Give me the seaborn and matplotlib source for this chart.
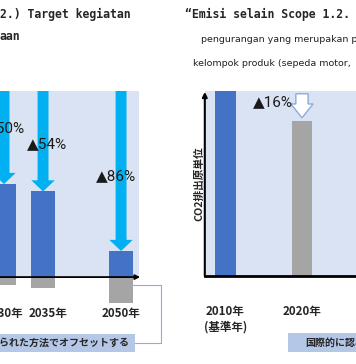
import pandas as pd
import matplotlib.pyplot as plt
import seaborn as sns
from matplotlib.patches import Rectangle
from matplotlib.lines import Line2D
from matplotlib.transforms import ScaledTranslation

# datos
left_years = ["2030年", "2035年", "2050年"]
left_net = [50, 46, 14]
left_offset = [-4, -6, -14]
left_cut = ["▲50%", "▲54%", "▲86%"]

right_years = ["2010年\n(基準年)", "2020年"]
right_vals = [100, 84]
right_cut = "▲16%"

box_text = "国際的に認められた方法でオフセットする"

BLUE = "#4472C4"
GRAY = "#A5A5A5"
BG = "#DAE3F3"
CYAN = "#00B0F0"
BOX = "#B4C7E7"
EDGE = "#8FAADC"

sns.set_theme(style="white")
plt.rcParams['font.family'] = ['Noto Sans CJK JP', 'DejaVu Sans']

W, H = 356, 364
fig = plt.figure(figsize=(W / 100, H / 100), dpi=100)


def fx(px):
    return px / W


def fy(py):
    return 1 - py / H


pct_font = ["Roboto", "DejaVu Sans"]

# panel izquierdo
ax1 = fig.add_axes([fx(-93.5), fy(305), (139 + 93.5) / W, (305 - 91) / H])
order = ["2030年", "2035年", "", "2050年"]
df_l = pd.DataFrame({"year": left_years, "net": left_net, "offset": left_offset})
sns.barplot(data=df_l, x="year", y="net", order=order, color=BLUE, width=0.62,
            linewidth=0, saturation=1, ax=ax1, zorder=2)
sns.barplot(data=df_l, x="year", y="offset", order=order, color=GRAY, width=0.62,
            linewidth=0, saturation=1, ax=ax1, zorder=2)
ax1.axhspan(0, 100, color=BG, zorder=0, lw=0)
ax1.set_xlim(-2.5, 3.46)
ax1.set_ylim(-15, 100)
ax1.set_facecolor("none")
for s in ax1.spines.values():
    s.set_visible(False)
ax1.set_yticks([])
ax1.set_xlabel("")
ax1.set_ylabel("")
ax1.tick_params(axis="x", length=0, pad=1.5)
for lab in ax1.get_xticklabels():
    lab.set_fontsize(8.3)
    lab.set_fontweight("bold")
# la etiqueta 2035 va un poco a la derecha en el original
t35 = ax1.xaxis.get_major_ticks()[1].label1
t35.set_transform(t35.get_transform() + ScaledTranslation(0.05, 0, fig.dpi_scale_trans))

lab_dx = [0.03, 0.1, -0.13]
lab_y = [80, 71.5, 54]
for i, yr in enumerate(left_years):
    x = order.index(yr)
    v = left_net[i]
    ax1.arrow(x, 100, 0, -(100 - v), width=0.28, head_width=0.6, head_length=6,
              length_includes_head=True, fc=CYAN, ec="none", zorder=3)
    ax1.text(x + lab_dx[i], lab_y[i], left_cut[i], ha="center", va="center",
             fontsize=11, family=pct_font, color="#1a1a1a", zorder=4)

ax1.annotate("", xy=(3.49, 0), xytext=(-2.5, 0),
             arrowprops=dict(arrowstyle="-|>", color="black", lw=1.3, mutation_scale=7,
                             shrinkA=0, shrinkB=0),
             annotation_clip=False, zorder=5)

# panel derecho
ax2 = fig.add_axes([fx(204.8), fy(276), (378.5 - 204.8) / W, (276 - 91) / H])
df_r = pd.DataFrame({"year": right_years, "val": right_vals})
sns.barplot(data=df_r, x="year", y="val", hue="year", palette=[BLUE, GRAY],
            legend=False, width=0.27, linewidth=0, saturation=1, ax=ax2, zorder=2)
ax2.set_facecolor(BG)
ax2.set_xlim(-0.27, 2)
ax2.set_ylim(0, 100)
for k in ["top", "right", "left"]:
    ax2.spines[k].set_visible(False)
ax2.spines["bottom"].set_color("black")
ax2.spines["bottom"].set_linewidth(2)
ax2.set_yticks([])
ax2.set_xlabel("")
ax2.set_ylabel("CO2排出原単位", fontsize=7.7, fontweight="bold", labelpad=0)
ax2.tick_params(axis="x", length=0, pad=21)
for lab in ax2.get_xticklabels():
    lab.set_fontsize(8.3)
    lab.set_fontweight("bold")
ax2.annotate("", xy=(0, 0.995), xytext=(0, 0), xycoords="axes fraction",
             arrowprops=dict(arrowstyle="-|>", color="black", lw=1.5, mutation_scale=7,
                             shrinkA=0, shrinkB=0),
             annotation_clip=False, zorder=5)
ax2.arrow(1, 98.5, 0, -(98.5 - right_vals[1] - 1.5), width=0.16, head_width=0.29,
          head_length=7.5, length_includes_head=True, fc="white", ec=EDGE, lw=1, zorder=3)
ax2.text(0.62, 94, right_cut, ha="center", va="center", fontsize=11,
         family=pct_font, color="#1a1a1a", zorder=4)

# titulos
mono = ["DejaVu Sans Mono"]
fig.text(fx(0), fy(14), "2.) Target kegiatan", ha="left", va="center", fontsize=8.3,
         fontweight="bold", family=mono)
fig.text(fx(0), fy(37), "aan", ha="left", va="center", fontsize=8.3,
         fontweight="bold", family=mono)
fig.text(fx(185), fy(14), "“Emisi selain Scope 1.2.", ha="left", va="center", fontsize=8.3,
         fontweight="bold", family=mono)
fig.text(fx(201), fy(40), "pengurangan yang merupakan p", ha="left", va="center",
         fontsize=6.8, family=["DejaVu Sans"], color="#222222")
fig.text(fx(193), fy(63), "kelompok produk (sepeda motor,", ha="left", va="center",
         fontsize=6.8, family=["DejaVu Sans"], color="#222222")

# cajas inferiores
fig.add_artist(Rectangle((fx(-5), fy(352)), (135 + 5) / W, 18 / H, transform=fig.transFigure,
                         fc=BOX, ec="none"))
fig.text(fx(129), fy(343), box_text, ha="right", va="center", fontsize=7.2, fontweight="bold")
fig.add_artist(Rectangle((fx(288), fy(352)), 80 / W, 19 / H, transform=fig.transFigure,
                         fc=BOX, ec="none"))
fig.text(fx(305), fy(343), box_text, ha="left", va="center", fontsize=7.2, fontweight="bold")
fig.add_artist(Line2D([fx(122), fx(161), fx(161), fx(135)], [fy(285), fy(285), fy(343), fy(343)],
                      transform=fig.transFigure, color=EDGE, lw=0.8, zorder=6))

fig.savefig("out.png", dpi=100)
